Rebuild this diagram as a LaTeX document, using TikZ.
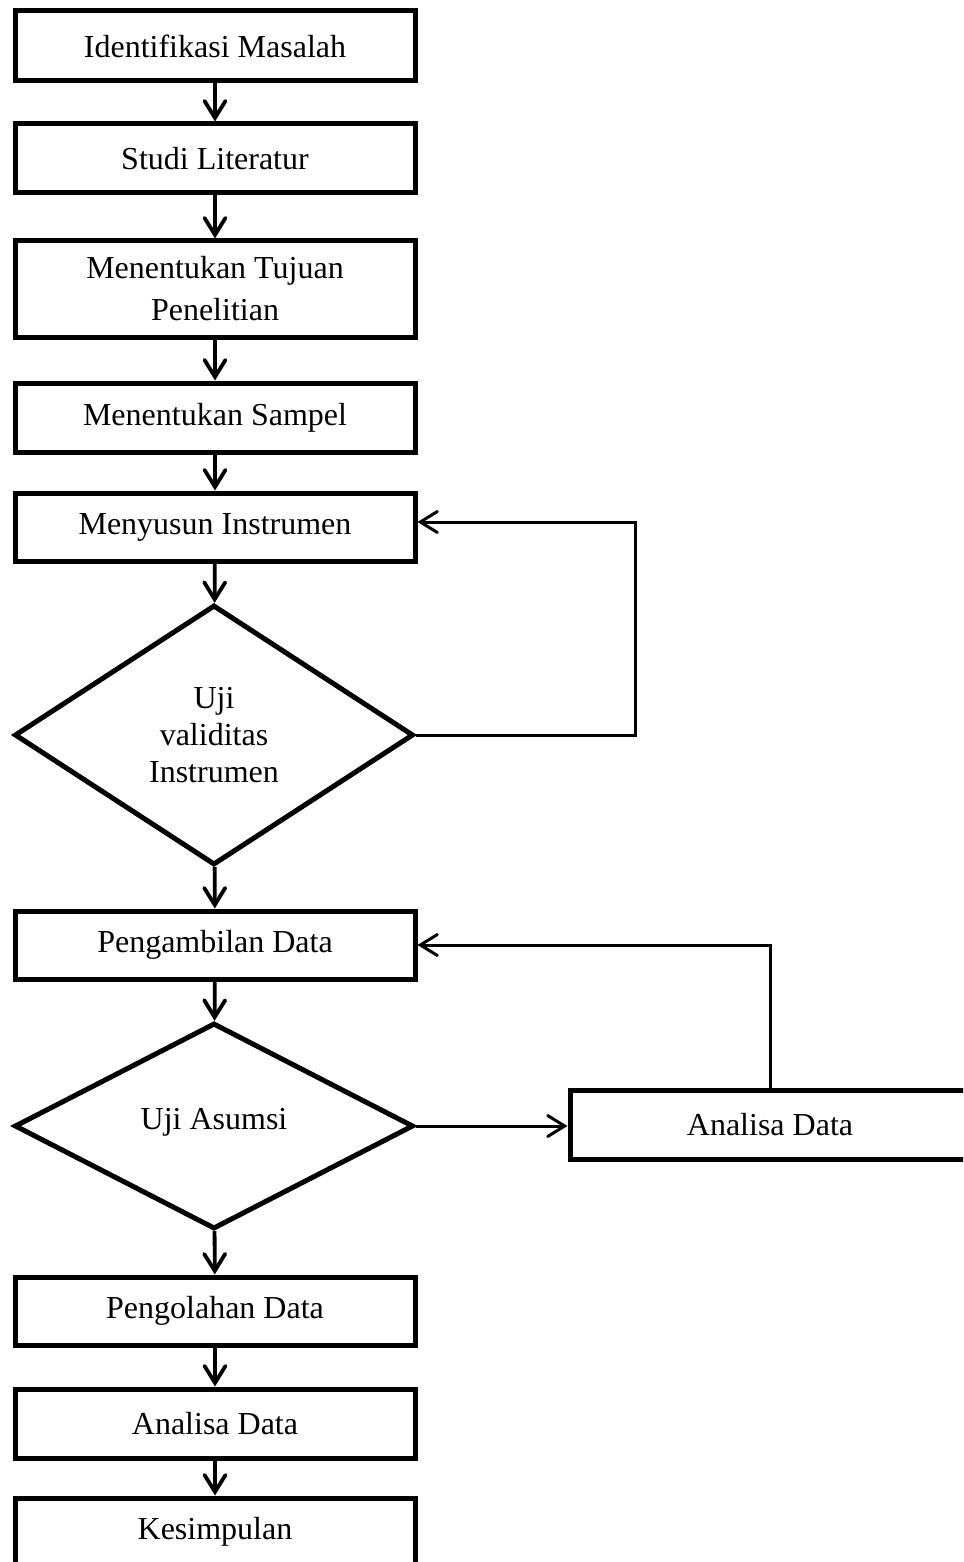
\documentclass[tikz,border=0pt]{standalone}
\usepackage{fontspec}
\setmainfont{Liberation Serif}
\usetikzlibrary{shapes.geometric,arrows.meta}
\tikzset{
  box/.style={draw, line width=5pt, rectangle, minimum width=400pt, inner sep=0pt, align=center, font=\fontsize{32}{42}\selectfont},
  dec/.style={draw, line width=5pt, diamond, inner sep=0pt, align=center, font=\fontsize{32}{37}\selectfont},
  arr/.style={line width=3.8pt, -{Straight Barb[length=17pt,width=21pt,line cap=round]}},
  looparr/.style={arr, line width=3pt},
}
\begin{document}
\begin{tikzpicture}[x=1pt,y=-1pt]
\clip (0,0) rectangle (963,1562);
\fill[white] (0,0) rectangle (963,1562);
\node[box, minimum height=70pt] (b1) at (215,46) {Identifikasi Masalah};
\node[box, minimum height=69pt] (b2) at (215,158.5) {Studi Literatur};
\node[box, minimum height=96pt] (b3) at (215,289) {Menentukan Tujuan\\Penelitian};
\node[box, minimum height=69pt] (b4) at (215,417.5) {Menentukan Sampel};
\node[box, minimum height=68pt] (b5) at (215,527) {Menyusun Instrumen};
\node[dec, minimum width=399pt, minimum height=260pt] (d1) at (214,735) {Uji\\validitas\\Instrumen};
\node[box, minimum height=68pt] (b6) at (215,945) {Pengambilan Data};
\node[dec, minimum width=399pt, minimum height=206pt] (d2) at (214,1126) {\raisebox{14pt}{Uji Asumsi}};
\node[box, minimum height=69pt] (r) at (770,1124.5) {Analisa Data};
\node[box, minimum height=68pt] (b7) at (215,1311) {Pengolahan Data};
\node[box, minimum height=69pt] (b8) at (215,1423.5) {Analisa Data};
\node[box, minimum height=68pt] (b9) at (215,1532) {Kesimpulan};
\coordinate (l1) at (635,522);
\draw[arr] (b1) -- (b2);
\draw[arr] (b2) -- (b3);
\draw[arr] (b3) -- (b4);
\draw[arr] (b4) -- (b5);
\draw[arr] (b5) -- (d1);
\draw[arr] (d1) -- (b6);
\draw[arr] (b6) -- (d2);
\draw[arr] (d2) -- (b7);
\draw[arr] (b7) -- (b8);
\draw[arr] (b8) -- (b9);
\draw[looparr] (d1.east) -| (l1) -- (b5.east |- l1);
\draw[looparr] (d2.east) -- (d2.east -| r.west);
\draw[looparr] (r.north) |- (b6.east);
\end{tikzpicture}
\end{document}
